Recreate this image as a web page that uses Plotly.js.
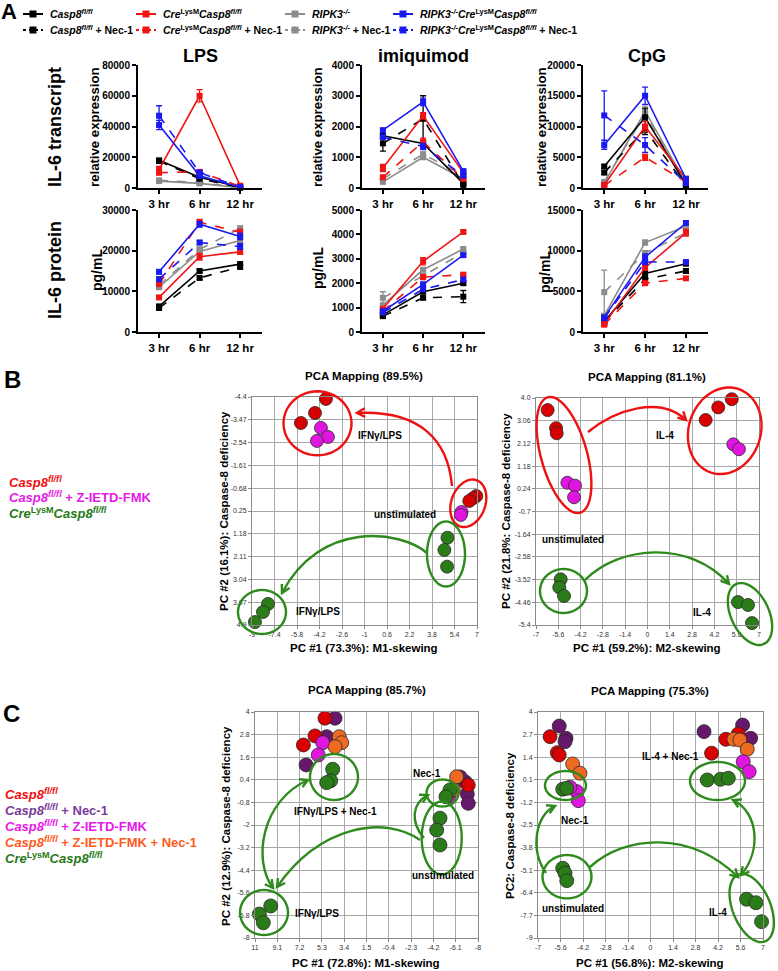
<!DOCTYPE html>
<html><head><meta charset="utf-8">
<script src="https://cdn.plot.ly/plotly-3.0.1.min.js"></script>
<style>html,body{margin:0;padding:0;background:#fff}#chart{width:778px;height:971px}</style>
</head><body><div id="chart"></div>
<script>
// ---------------- DATA ----------------
const times = ['3 hr', '6 hr', '12 hr'];
const seriesNames = [
  '<i>Casp8</i><sup><i>fl/fl</i></sup>',
  '<i>Casp8</i><sup><i>fl/fl</i></sup> + Nec-1',
  '<i>Cre</i><sup>LysM</sup><i>Casp8</i><sup><i>fl/fl</i></sup>',
  '<i>Cre</i><sup>LysM</sup><i>Casp8</i><sup><i>fl/fl</i></sup> + Nec-1',
  '<i>RIPK3</i><sup><i>-/-</i></sup>',
  '<i>RIPK3</i><sup><i>-/-</i></sup> + Nec-1',
  '<i>RIPK3</i><sup><i>-/-</i></sup><i>Cre</i><sup>LysM</sup><i>Casp8</i><sup><i>fl/fl</i></sup>',
  '<i>RIPK3</i><sup><i>-/-</i></sup><i>Cre</i><sup>LysM</sup><i>Casp8</i><sup><i>fl/fl</i></sup> + Nec-1'
];
// order: Casp8, Casp8+Nec, Cre, Cre+Nec, RIPK3, RIPK3+Nec, RIPK3Cre, RIPK3Cre+Nec
const lpsTranscript = [[18000,7000,500],[17500,6000,300],[12000,60000,1500],[10000,10500,1000],[4500,3000,200],[5000,3500,300],[41000,8000,500],[47000,10000,500]];
const lpsTranscriptErr = [[1000,800,200],[800,600,200],[2000,4000,800],[1500,1000,500],[800,500,100],[800,500,100],[3000,1500,300],[6500,1500,300]];
const imiqTranscript = [[1700,1450,150],[1450,2250,100],[650,2350,500],[350,1500,300],[200,1000,300],[300,1100,400],[1880,2800,550],[1650,1350,400]];
const imiqTranscriptErr = [[60,60,30],[250,750,30],[120,100,60],[60,120,40],[40,60,40],[40,60,40],[60,120,50],[60,100,40]];
const cpgTranscript = [[3500,11500,500],[2500,9500,300],[500,10000,1500],[400,5000,1000],[800,12500,800],[1000,12000,600],[7000,15000,1500],[11800,7000,800]];
const cpgTranscriptErr = [[300,1500,200],[300,800,100],[200,800,300],[200,500,200],[200,800,200],[200,800,200],[700,1400,300],[4000,1200,300]];
const lpsProtein = [[6300,15000,16700],[5900,13300,16000],[8500,18500,19700],[11800,27000,24500],[11000,19800,22500],[11500,20300,25500],[14800,26500,23500],[13000,22000,21000]];
const lpsProteinErr = [[400,400,500],[400,400,500],[400,800,600],[500,700,800],[400,600,600],[400,600,500],[500,700,800],[500,500,700]];
const imiqProtein = [[700,1650,2000],[650,1400,1450],[950,2900,4100],[850,2250,2350],[1100,2550,3400],[1400,2300,3250],[850,1950,3150],[800,1750,2150]];
const imiqProteinErr = [[50,60,60],[50,60,250],[60,150,60],[50,100,60],[60,60,60],[250,80,60],[50,80,60],[50,60,60]];
const cpgProtein = [[1300,7200,8400],[1200,6500,7500],[1000,7900,12200],[900,6000,6600],[2000,11000,13000],[4900,9700,12200],[1800,9200,13400],[1700,8600,8600]];
const cpgProteinErr = [[200,250,200],[200,250,300],[150,300,400],[150,250,200],[200,300,300],[2700,300,300],[200,400,300],[200,300,200]];

// PCA B left (IFNy/LPS, M1) : x = PC1, y = PC2
const bLeftRedX = [-3.74,-4.52,-5.52,6.95,6.72,6.45];
const bLeftRedY = [-4.32,-3.75,-3.34,-0.36,-0.27,-0.16];
const bLeftMagX = [-4.1,-3.6,-4.38,5.9,5.85];
const bLeftMagY = [-3.14,-2.77,-2.61,0.29,0.41];
const bLeftGreenX = [4.9,4.68,4.87,-7.86,-8.22,-8.79];
const bLeftGreenY = [1.34,1.84,2.52,4.04,4.37,4.78];
// PCA B right (IL-4, M2)
const bRightRedX = [-6.27,-5.74,-5.70,3.65,4.44,5.29];
const bRightRedY = [3.50,2.75,2.54,3.09,3.61,3.95];
const bRightMagX = [-5.03,-4.55,-4.61,5.39,5.74];
const bRightMagY = [0.49,0.37,-0.11,2.08,1.88];
const bRightGreenX = [-5.45,-5.54,-5.24,5.68,6.31,6.56];
const bRightGreenY = [-3.51,-3.84,-4.20,-4.45,-4.57,-5.32];
// PCA C left
const cLeftPurpleX = [4.18,4.89,6.65,-6.89,-7.09,-7.17,-6.47];
const cLeftPurpleY = [3.67,2.69,1.19,0.30,-0.35,-0.85,0.55];
const cLeftRedX = [5.04,5.89,6.88,-7.17];
const cLeftRedY = [3.67,2.73,2.25,0.12];
const cLeftMagX = [5.23,5.61,-5.47];
const cLeftMagY = [2.37,1.72,-0.50];
const cLeftOrangeX = [3.82,3.61,4.18,-6.18,-5.9];
const cLeftOrangeY = [2.69,2.37,2.16,0.56,-0.14];
const cLeftGreenX = [4.38,4.55,4.89,9.66,10.63,10.29,-5.61,-5.27,-4.76,-4.48,-4.76];
const cLeftGreenY = [0.96,0.35,0.25,-6.30,-6.73,-7.19,-0.14,-0.50,-1.64,-2.27,-3.06];
// PCA C right
const cRightPurpleX = [-5.68,-5.26,-5.32,3.33,5.73,6.23];
const cRightPurpleY = [3.19,2.49,2.29,2.87,3.25,2.49];
const cRightRedX = [-6.25,-5.80,-5.68,3.80,4.69,5.46];
const cRightRedY = [2.58,1.66,1.53,1.63,2.43,2.74];
const cRightOrangeX = [-4.84,-4.39,5.19,5.56,6.02];
const cRightOrangeY = [1.01,0.48,2.43,2.39,1.86];
const cRightMagX = [-4.59,-4.49,-5.01,5.77,6.14];
const cRightMagY = [-0.58,-1.10,-0.33,1.14,0.57];
const cRightGreenX = [-5.46,-5.21,-5.46,-5.32,-5.21,3.53,4.36,4.84,5.98,6.56,6.91];
const cRightGreenY = [-0.44,-0.39,-4.99,-5.27,-5.70,0.09,0.13,0.19,-6.77,-6.97,-8.06];

// tick labels
const bLeftXTicks = [-9,-7.4,-5.8,-4.2,-2.6,-1,0.6,2.2,3.8,5.4,7];
const bLeftYTicks = [-4.4,-3.47,-2.54,-1.61,-0.68,0.25,1.18,2.11,3.04,3.97,4.9];
const bRightXTicks = [-7,-5.6,-4.2,-2.8,-1.4,0,1.4,2.8,4.2,5.6,7];
const bRightYTicks = ['4.0','3.06','2.12','1.18','0.24','-0.7','-1.64','-2.58','-3.52','-4.46','-5.4'];
const cLeftXTicks = [11,9.1,7.2,5.3,3.4,1.5,-0.4,-2.3,-4.2,-6.1,-8];
const cLeftYTicks = [4,2.8,1.6,0.4,-0.8,-2,-3.2,-4.4,-5.6,-6.8,-8];
const cRightXTicks = [-7,-5.6,-4.2,-2.8,-1.4,0,1.4,2.8,4.2,5.6,7];
const cRightYTicks = [4,2.7,1.4,0.1,-1.2,-2.5,-3.8,-5.1,-6.4,-7.7,-9];

// ---------------- STYLE / LAYOUT ----------------
const W = 778, H = 971;
const X = p => p / W;
const Y = p => 1 - p / H;
const F = 'Arial, "Liberation Sans", sans-serif';
const RED = '#f01414', BLUE = '#1a1af0', GRAY = '#8c8c8c', BLACK = '#000000';
const seriesColors = [BLACK, BLACK, RED, RED, GRAY, GRAY, BLUE, BLUE];
const seriesDash = ['solid','dash','solid','dash','solid','dash','solid','dash'];
const drawOrder = [4,5,0,1,2,3,6,7];

const panelsA = [
  {v: lpsTranscript, e: lpsTranscriptErr, max: 80000, dt: 20000},
  {v: imiqTranscript, e: imiqTranscriptErr, max: 4000, dt: 1000},
  {v: cpgTranscript, e: cpgTranscriptErr, max: 20000, dt: 5000},
  {v: lpsProtein, e: lpsProteinErr, max: 30000, dt: 10000},
  {v: imiqProtein, e: imiqProteinErr, max: 5000, dt: 1000},
  {v: cpgProtein, e: cpgProteinErr, max: 15000, dt: 5000}
];
const colsA = [[138,262],[362,485],[583,708]];
const rowsA = [[65,188],[210,332]];

const traces = [];
const layout = {
  width: W, height: H, autosize: false,
  margin: {l:0, r:0, t:0, b:0},
  paper_bgcolor: '#fff', plot_bgcolor: 'rgba(0,0,0,0)',
  font: {family: F, color: '#000'},
  showlegend: false,
  annotations: [], shapes: []
};

panelsA.forEach((p, i) => {
  const n = i + 1, sfx = n === 1 ? '' : String(n);
  const c = colsA[i % 3], r = rowsA[Math.floor(i / 3)];
  layout['xaxis' + sfx] = {
    domain: [X(c[0]), X(c[1])], anchor: 'y' + sfx, type: 'category',
    range: [-0.52, 2.54], showline: true, linewidth: 2, linecolor: '#000',
    ticks: 'outside', ticklen: 4, tickwidth: 2, tickcolor: '#000',
    tickfont: {family: F, size: 11.5, color: '#000', weight: 'bold'},
    showgrid: false, zeroline: false, fixedrange: true
  };
  layout['yaxis' + sfx] = {
    domain: [Y(r[1]), Y(r[0])], anchor: 'x' + sfx,
    range: [0, p.max], tick0: 0, dtick: p.dt, tickformat: 'd',
    showline: true, linewidth: 2, linecolor: '#000',
    ticks: 'outside', ticklen: 4, tickwidth: 2, tickcolor: '#000',
    tickfont: {family: F, size: 10, color: '#000', weight: 'bold'},
    showgrid: false, zeroline: false, fixedrange: true
  };
  drawOrder.forEach(s => {
    traces.push({
      type: 'scatter', mode: 'lines+markers', x: times, y: p.v[s],
      xaxis: 'x' + sfx, yaxis: 'y' + sfx,
      name: seriesNames[s], showlegend: false,
      line: {color: seriesColors[s], width: 1.6, dash: seriesDash[s]},
      marker: {symbol: 'square', size: 6, color: seriesColors[s]},
      error_y: {type: 'data', array: p.e[s], visible: true, color: seriesColors[s], thickness: 1.3, width: 3},
      cliponaxis: false, hoverinfo: 'skip'
    });
  });
});

// PCA panels
const pcaPanels = [
  {n: 7, dom: [[252,477],[397,625]], xr: [-9,7], yr: [4.9,-4.4], xt: bLeftXTicks, yt: bLeftYTicks, yl: bLeftYTicks.map(String), size: 13,
   sets: [[bLeftRedX,bLeftRedY,'#d80000'],[bLeftMagX,bLeftMagY,'#e016e0'],[bLeftGreenX,bLeftGreenY,'#2a7c18']]},
  {n: 8, dom: [[536,759],[398,625]], xr: [-7,7], yr: [-5.4,4.0], xt: bRightXTicks, yt: bRightYTicks.map(Number), yl: bRightYTicks, size: 13,
   sets: [[bRightRedX,bRightRedY,'#d80000'],[bRightMagX,bRightMagY,'#e016e0'],[bRightGreenX,bRightGreenY,'#2a7c18']]},
  {n: 9, dom: [[255,478],[712,938]], xr: [11,-8], yr: [-8,4], xt: cLeftXTicks, yt: cLeftYTicks, yl: cLeftYTicks.map(String), size: 14,
   sets: [[cLeftPurpleX,cLeftPurpleY,'#66186a'],[cLeftRedX,cLeftRedY,'#d80000'],[cLeftMagX,cLeftMagY,'#e016e0'],[cLeftOrangeX,cLeftOrangeY,'#ee6a22'],[cLeftGreenX,cLeftGreenY,'#2a7c18']]},
  {n: 10, dom: [[538,763],[712,938]], xr: [-7,7], yr: [-9,4], xt: cRightXTicks, yt: cRightYTicks, yl: cRightYTicks.map(String), size: 14,
   sets: [[cRightPurpleX,cRightPurpleY,'#66186a'],[cRightRedX,cRightRedY,'#d80000'],[cRightOrangeX,cRightOrangeY,'#ee6a22'],[cRightMagX,cRightMagY,'#e016e0'],[cRightGreenX,cRightGreenY,'#2a7c18']]}
];
pcaPanels.forEach(p => {
  const sfx = String(p.n);
  const axBase = {showline: true, mirror: true, linecolor: '#8a8a8a', linewidth: 1,
    showgrid: true, gridcolor: '#a8a8a8', gridwidth: 1, zeroline: false,
    ticks: 'outside', ticklen: 3, tickcolor: '#8a8a8a',
    tickfont: {family: F, size: 7, color: '#333'}, fixedrange: true};
  layout['xaxis' + sfx] = Object.assign({}, axBase, {domain: [X(p.dom[0][0]), X(p.dom[0][1])], anchor: 'y' + sfx,
    range: p.xr, tickmode: 'array', tickvals: p.xt, ticktext: p.xt.map(String)});
  layout['yaxis' + sfx] = Object.assign({}, axBase, {domain: [Y(p.dom[1][1]), Y(p.dom[1][0])], anchor: 'x' + sfx,
    range: p.yr, tickmode: 'array', tickvals: p.yt, ticktext: p.yl});
  p.sets.forEach(s => traces.push({
    type: 'scatter', mode: 'markers', x: s[0], y: s[1], xaxis: 'x' + sfx, yaxis: 'y' + sfx,
    marker: {size: p.size, color: s[2], line: {color: '#2a2a2a', width: 0.8}},
    showlegend: false, cliponaxis: false, hoverinfo: 'skip'
  }));
});

// ---------------- annotations ----------------
function ann(text, x, y, size, opt) {
  layout.annotations.push(Object.assign({text: text, x: X(x), y: Y(y), xref: 'paper', yref: 'paper',
    showarrow: false, xanchor: 'center', yanchor: 'middle',
    font: {family: F, size: size, color: '#000'}}, opt || {}));
}
function pt(x, y) { return X(x).toFixed(5) + ',' + Y(y).toFixed(5); }

// legend for panel A (key drawn as shapes + text)
const legCols = [23, 136, 285, 393];
const legRows = [14, 30];
seriesNames.forEach((nm, s) => {
  const gx = legCols[Math.floor(s / 2)], gy = legRows[s % 2], col = seriesColors[s];
  layout.shapes.push({type: 'line', xref: 'paper', yref: 'paper', x0: X(gx), x1: X(gx + 20), y0: Y(gy), y1: Y(gy),
    line: {color: col, width: 2, dash: s % 2 ? 'dot' : 'solid'}});
  layout.shapes.push({type: 'rect', xref: 'paper', yref: 'paper', x0: X(gx + 6.5), x1: X(gx + 13.5), y0: Y(gy + 3.5), y1: Y(gy - 3.5),
    line: {width: 0}, fillcolor: col});
  ann('<b>' + nm + '</b>', gx + 25, gy, 10.5, {xanchor: 'left'});
});

ann('<b>A</b>', 9, 12, 22);
ann('<b>B</b>', 12, 379, 24);
ann('<b>C</b>', 11, 713, 24);
ann('<b>LPS</b>', 200, 56, 18);
ann('<b>imiquimod</b>', 424, 56, 18);
ann('<b>CpG</b>', 647, 56, 18);
ann('<b>IL-6 transcript</b>', 55, 127, 18, {textangle: -90});
ann('<b>IL-6 protein</b>', 55, 270, 18, {textangle: -90});
[[95,127],[318,127],[542,127]].forEach(q => ann('<b>relative expression</b>', q[0], q[1], 13.2, {textangle: -90}));
[[97,270],[318,268],[545,272]].forEach(q => ann('<b>pg/mL</b>', q[0], q[1], 14, {textangle: -90}));

// PCA titles
ann('<b>PCA Mapping (89.5%)</b>', 364, 376, 11.5);
ann('<b>PCA Mapping (81.1%)</b>', 647, 377, 11.5);
ann('<b>PCA Mapping (85.7%)</b>', 367, 690, 11.5);
ann('<b>PCA Mapping (75.3%)</b>', 650, 691, 11.5);
ann('<b>PC #1 (73.3%): M1-skewing</b>', 364, 648, 11.5);
ann('<b>PC #1 (59.2%): M2-skewing</b>', 647, 648, 11.5);
ann('<b>PC #1 (72.8%): M1-skewing</b>', 366, 963, 11.5);
ann('<b>PC #1 (56.8%): M2-skewing</b>', 650, 963, 11.5);
ann('<b>PC #2 (16.1%): Caspase-8 deficiency</b>', 224, 511, 11.5, {textangle: -90});
ann('<b>PC #2 (21.8%: Caspase-8 deficiency</b>', 506, 511, 11.5, {textangle: -90});
ann('<b>PC #2 (12.9%): Caspase-8 deficiency</b>', 226, 826, 11.5, {textangle: -90});
ann('<b>PC2: Caspase-8 deficiency</b>', 510, 826, 11.5, {textangle: -90});

// labels inside PCA plots
[['IFNγ/LPS',380,435],['unstimulated',405,514],['IFNγ/LPS',318,611],
 ['IL-4',665,435],['unstimulated',573,539],['IL-4',702,612],
 ['IFNγ/LPS + Nec-1',335,811],['IFNγ/LPS',317,913],['Nec-1',427,773],['unstimulated',443,875],
 ['Nec-1',575,820],['IL-4 + Nec-1',670,756],['unstimulated',573,908],['IL-4',718,912]
].forEach(l => ann('<b>' + l[0] + '</b>', l[1], l[2], 10));

// side legends B, C
const CASP = '<i>Casp8</i><sup><i>fl/fl</i></sup>';
const CRE = '<i>Cre</i><sup>LysM</sup><i>Casp8</i><sup><i>fl/fl</i></sup>';
const sideOpt = c => ({xanchor: 'left', font: {family: F, size: 13, color: c}});
ann('<b>' + CASP + '</b>', 7, 482, 13, sideOpt('#ee1111'));
ann('<b>' + CASP + ' + Z-IETD-FMK</b>', 7, 497, 13, sideOpt('#e619e6'));
ann('<b>' + CRE + '</b>', 7, 513, 13, sideOpt('#267a16'));
ann('<b>' + CASP + '</b>', 3, 794, 13, sideOpt('#ee1111'));
ann('<b>' + CASP + ' + Nec-1</b>', 3, 810, 13, sideOpt('#7a3c9a'));
ann('<b>' + CASP + ' + Z-IETD-FMK</b>', 3, 826, 13, sideOpt('#e619e6'));
ann('<b>' + CASP + ' + Z-IETD-FMK + Nec-1</b>', 3, 842, 13, sideOpt('#ff5a1e'));
ann('<b>' + CRE + '</b>', 3, 858, 13, sideOpt('#267a16'));

// ---------------- ellipses and arrows (decoration, pixel space) ----------------
const ERED = '#ee1111', EGREEN = '#2e8a1c';
function ellipse(cx, cy, rx, ry, ang, col) {
  const a = ang * Math.PI / 180; let d = '';
  for (let i = 0; i <= 60; i++) {
    const t = i / 60 * 2 * Math.PI, ex = rx * Math.cos(t), ey = ry * Math.sin(t);
    d += (i ? ' L' : 'M') + pt(cx + ex * Math.cos(a) - ey * Math.sin(a), cy + ex * Math.sin(a) + ey * Math.cos(a));
  }
  layout.shapes.push({type: 'path', path: d + ' Z', xref: 'paper', yref: 'paper', layer: 'above',
    line: {color: col, width: 2.4}, fillcolor: 'rgba(0,0,0,0)'});
}
function head(tx, ty, fx, fy, col) {
  const dx = tx - fx, dy = ty - fy, L = Math.hypot(dx, dy), ux = dx / L, uy = dy / L, len = 9, h = 0.5;
  const c = Math.cos(h), s = Math.sin(h);
  const p1 = [tx - len * (ux * c - uy * s), ty - len * (uy * c + ux * s)];
  const p2 = [tx - len * (ux * c + uy * s), ty - len * (uy * c - ux * s)];
  layout.shapes.push({type: 'path', path: 'M' + pt(p1[0], p1[1]) + ' L' + pt(tx, ty) + ' L' + pt(p2[0], p2[1]),
    xref: 'paper', yref: 'paper', layer: 'above', line: {color: col, width: 2.4}});
}
function curve(c, col, both) {
  layout.shapes.push({type: 'path', path: 'M' + pt(c[0], c[1]) + ' C' + pt(c[2], c[3]) + ' ' + pt(c[4], c[5]) + ' ' + pt(c[6], c[7]),
    xref: 'paper', yref: 'paper', layer: 'above', line: {color: col, width: 2.4}});
  head(c[6], c[7], c[4], c[5], col);
  if (both) head(c[0], c[1], c[2], c[3], col);
}
// B left
ellipse(317.5, 423.3, 34, 32, 0, ERED);
ellipse(468.3, 503.3, 24.5, 17, -70, ERED);
ellipse(446, 554, 19, 32.5, 0, EGREEN);
ellipse(262, 612, 24, 22, 0, EGREEN);
curve([452,486, 448,440, 420,410, 357,413], ERED);
curve([427,553, 400,530, 320,520, 282,593], EGREEN);
// B right
ellipse(564, 455, 60, 23, 74.4, ERED);
ellipse(724.7, 430.8, 44, 36, -72, ERED);
ellipse(563.5, 591, 23.5, 22, 0, EGREEN);
ellipse(750, 614, 33, 19, 65, EGREEN);
curve([588,432, 615,410, 660,395, 686,420], ERED);
curve([585,580, 620,545, 690,540, 729,584], EGREEN);
// C left
ellipse(334, 777, 24, 23, 0, EGREEN);
ellipse(264, 912.5, 24, 22.5, 0, EGREEN);
ellipse(442.5, 793, 16, 13.5, 0, EGREEN);
ellipse(441.7, 838, 20, 36.5, 0, EGREEN);
curve([308,780, 262,800, 252,860, 273,888], EGREEN, true);
curve([420,840, 385,815, 320,825, 277,887], EGREEN);
curve([424,838, 410,822, 412,803, 428,795], EGREEN);
// C right
ellipse(565.5, 785.5, 20.5, 14.5, 0, EGREEN);
ellipse(567, 876.7, 24.5, 21.7, 0, EGREEN);
ellipse(717.5, 781, 27.5, 19, 0, EGREEN);
ellipse(751.7, 908, 36, 19, 68, EGREEN);
curve([546,873, 530,850, 535,815, 555,806], EGREEN);
curve([590,867, 625,835, 690,830, 738,877], EGREEN);
curve([741,875, 762,850, 758,812, 733,800], EGREEN, true);

Plotly.newPlot('chart', traces, layout, {displayModeBar: false, staticPlot: true});
</script>
</body></html>
